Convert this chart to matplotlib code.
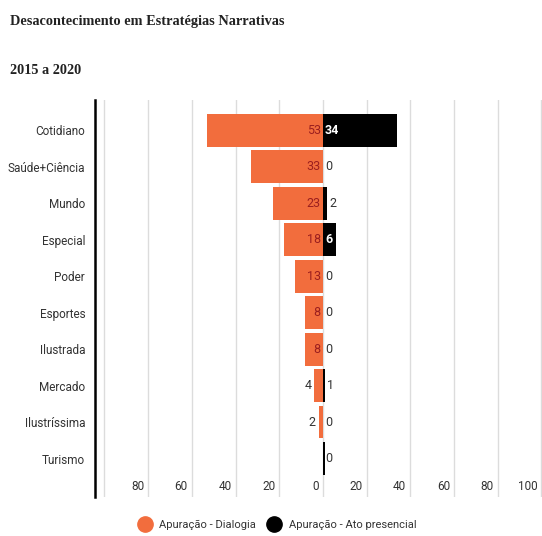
#!/usr/bin/env python3
"""Desacontecimento em Estrategias Narrativas - diverging bar chart."""
import matplotlib
matplotlib.use("Agg")
import matplotlib.pyplot as plt
from matplotlib.lines import Line2D
from matplotlib.transforms import ScaledTranslation
import numpy as np

# ── data ─────────────────────────────────────────────────────────────────────
categories = ["Cotidiano", "Saúde+Ciência", "Mundo", "Especial", "Poder",
              "Esportes", "Ilustrada", "Mercado", "Ilustríssima", "Turismo"]
dialogia   = [53, 33, 23, 18, 13, 8, 8, 4, 2, 0]
presencial = [34, 0, 2, 6, 0, 0, 0, 1, 0, 0.8]
x_ticks    = [-100, -80, -60, -40, -20, 0, 20, 40, 60, 80, 100]
x_labels   = ["", "80", "60", "40", "20", "0", "20", "40", "60", "80", "100"]

# ── palette ──────────────────────────────────────────────────────────────────
ORANGE   = "#f26d3d"
BLACK    = "#000000"
GRID     = "#dcdcdc"
TEXT     = "#333333"
IN_LABEL = "#9b1f1f"

plt.rcParams["font.family"] = ["Roboto", "DejaVu Sans"]

fig = plt.figure(figsize=(5.42, 5.36), dpi=100)
fig.patch.set_facecolor("white")
ax = fig.add_axes([0.175, 0.073, 0.825, 0.74])

y = np.arange(len(categories))
ax.barh(y, -np.array(dialogia), left=0, height=0.9, color=ORANGE, zorder=2)
ax.barh(y, presencial, left=0, height=0.9, color=BLACK, zorder=2)

# value labels
for i, (d, p) in enumerate(zip(dialogia, presencial)):
    if d >= 8:
        ax.text(-1.0, i, f"{d}", ha="right", va="center", fontsize=9,
                color=IN_LABEL, zorder=3)
    elif d > 0:
        ax.text(-d - 1.2, i, f"{d}", ha="right", va="center", fontsize=9,
                color=TEXT, zorder=3)
    if p >= 5:
        ax.text(1.0, i, f"{int(p)}", ha="left", va="center", fontsize=9,
                color="white", fontweight="bold", zorder=3)
    else:
        ax.text(p + 1.0 if p >= 1 else 1.0, i, f"{int(p)}", ha="left",
                va="center", fontsize=9, color=TEXT, zorder=3)

ax.set_yticks(y)
ax.set_yticklabels(categories, fontsize=8.5, color=TEXT)
ax.tick_params(axis="y", length=0, pad=7)

ax.set_xlim(-104.4, 100.3)
ax.set_ylim(10.05, -0.82)
ax.set_xticks(x_ticks)
ax.tick_params(axis="x", length=0, direction="in", pad=-12)
ax.set_xticklabels(x_labels, fontsize=8.5, color=TEXT, ha="right")
shift = ScaledTranslation(-4 / 100, 0, fig.dpi_scale_trans)
for lab in ax.get_xticklabels():
    lab.set_transform(lab.get_transform() + shift)
ax.grid(axis="x", color=GRID, linewidth=1, zorder=0)
ax.set_axisbelow(True)

for side in ["top", "right", "bottom"]:
    ax.spines[side].set_visible(False)
ax.spines["left"].set_color(BLACK)
ax.spines["left"].set_linewidth(1.8)

# ── titles ───────────────────────────────────────────────────────────────────
fig.text(10 / 542, 1 - 22 / 536, "Desacontecimento em Estratégias Narrativas",
         family="Liberation Serif", fontweight="bold", fontsize=10.3,
         color="#222222", ha="left", va="center")
fig.text(10 / 542, 1 - 70 / 536, "2015 a 2020",
         family="Liberation Serif", fontweight="bold", fontsize=10.3,
         color="#222222", ha="left", va="center")

# ── legend ───────────────────────────────────────────────────────────────────
handles = [
    Line2D([], [], marker="o", linestyle="", markersize=11,
           markerfacecolor=ORANGE, markeredgecolor=ORANGE,
           label="Apuração - Dialogia"),
    Line2D([], [], marker="o", linestyle="", markersize=11,
           markerfacecolor=BLACK, markeredgecolor=BLACK,
           label="Apuração - Ato presencial"),
]
fig.legend(handles=handles, loc="center", ncol=2, frameon=False,
           fontsize=8, labelcolor=TEXT, handletextpad=0.3, columnspacing=0.6,
           bbox_to_anchor=(275 / 542, 1 - 525 / 536))

fig.savefig("out.png", dpi=100, facecolor="white")
